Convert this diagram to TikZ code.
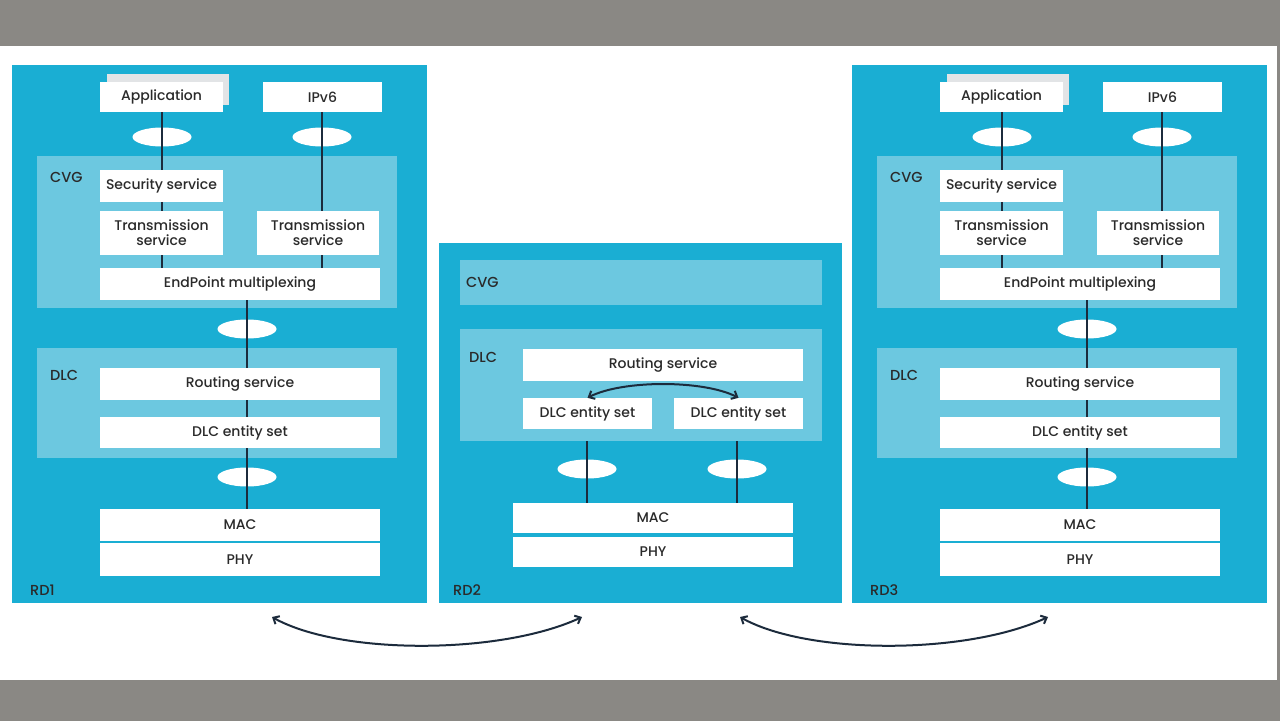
\documentclass[tikz,border=0pt]{standalone}
\usepackage{fontspec}
\setmainfont{Poppins}[UprightFont={* Medium}]
\usetikzlibrary{shapes.geometric,arrows.meta}
\definecolor{outerblue}{HTML}{1AAED3}
\definecolor{innerblue}{HTML}{6CC8E0}
\definecolor{framegray}{HTML}{8A8884}
\definecolor{ink}{HTML}{1C2B3C}
\definecolor{txt}{HTML}{2A2A2A}
\definecolor{shadowgray}{HTML}{E2E4E6}
\newcommand{\bx}[7]{\node[#1, minimum width={(#5-#3)*1pt}, minimum height={(#6-#4)*1pt}] (#2) at ({(#3+#5)/2},{(#4+#6)/2}) {#7};}
\newcommand{\rdpanel}[2]{%
  \bx{outer}{#1-rd}{12}{65}{427}{603}{}
  \bx{inner}{#1-cvg}{37}{156}{397}{308}{}
  \bx{inner}{#1-dlc}{37}{348}{397}{458}{}
  \bx{shadow}{#1-appsh}{107}{74}{229}{105}{}
  \bx{box}{#1-app}{100}{82}{223}{112}{Application}
  \bx{box}{#1-ipv6}{263}{82}{382}{112}{IPv6}
  \bx{box}{#1-sec}{100}{170}{223}{202}{Security service}
  \bx{box}{#1-trl}{100}{211}{223}{255}{Transmission\\service}
  \bx{box}{#1-trr}{257}{211}{379}{255}{Transmission\\service}
  \bx{box}{#1-ep}{100}{268}{380}{300}{EndPoint multiplexing}
  \bx{box}{#1-rt}{100}{368}{380}{400}{Routing service}
  \bx{box}{#1-ent}{100}{417}{380}{448}{DLC entity set}
  \bx{box}{#1-mac}{100}{509}{380}{541}{MAC}
  \bx{box}{#1-phy}{100}{543}{380}{576}{PHY}
  \node[oval] (#1-o1) at (162,137) {};
  \node[oval] (#1-o2) at (322,137) {};
  \node[oval] (#1-o3) at (247,329) {};
  \node[oval] (#1-o4) at (247,477) {};
  \node[lbl] (#1-lcvg) at (50,177) {CVG};
  \node[lbl] (#1-ldlc) at (50,375) {DLC};
  \node[lbl] (#1-lrd) at (30,590) {#2};
  \draw[link] (#1-app.south -| #1-o1) -- (#1-sec.north -| #1-o1);
  \draw[link] (#1-sec.south -| #1-o1) -- (#1-trl.north -| #1-o1);
  \draw[link] (#1-trl.south -| #1-o1) -- (#1-ep.north -| #1-o1);
  \draw[link] (#1-ipv6.south -| #1-o2) -- (#1-trr.north -| #1-o2);
  \draw[link] (#1-trr.south -| #1-o2) -- (#1-ep.north -| #1-o2);
  \draw[link] (#1-ep.south -| #1-o3) -- (#1-rt.north -| #1-o3);
  \draw[link] (#1-rt.south -| #1-o3) -- (#1-ent.north -| #1-o3);
  \draw[link] (#1-ent.south -| #1-o4) -- (#1-mac.north -| #1-o4);
}
\begin{document}
\begin{tikzpicture}[x=1pt,y=-1pt,
  outer/.style={rectangle, fill=outerblue, inner sep=0pt, draw=none},
  inner/.style={rectangle, fill=innerblue, inner sep=0pt, draw=none},
  shadow/.style={rectangle, fill=shadowgray, inner sep=0pt, draw=none},
  box/.style={rectangle, fill=white, inner sep=0pt, draw=none, align=center, text=txt, font=\fontsize{14}{15}\selectfont},
  oval/.style={ellipse, fill=white, draw=none, minimum width=59pt, minimum height=19pt, inner sep=0pt},
  lbl/.style={anchor=west, inner sep=0pt, text=txt, font=\fontsize{14.5}{15}\selectfont},
  link/.style={draw=ink, line width=2.8pt},
  swap/.style={draw=ink, line width=2pt, {Straight Barb[length=5pt,width=9pt]}-{Straight Barb[length=5pt,width=9pt]}}
]
\useasboundingbox (0,0) rectangle (1280,721);
\fill[white] (0,0) rectangle (1280,721);
\fill[framegray] (0,0) rectangle (1280,46);
\fill[framegray] (0,680) rectangle (1280,721);
\fill[framegray] (1277,46) rectangle (1280,680);

\rdpanel{p}{RD1}
\begin{scope}[xshift=840pt]
\rdpanel{q}{RD3}
\end{scope}

% middle panel
\bx{outer}{m-rd}{439}{243}{842}{603}{}
\bx{inner}{m-cvg}{460}{260}{822}{305}{}
\bx{inner}{m-dlc}{460}{329}{822}{441}{}
\bx{box}{m-rt}{523}{349}{803}{381}{Routing service}
\bx{box}{m-entl}{523}{398}{652}{429}{DLC entity set}
\bx{box}{m-entr}{674}{398}{803}{429}{DLC entity set}
\bx{box}{m-mac}{513}{503}{793}{533}{MAC}
\bx{box}{m-phy}{513}{537}{793}{567}{PHY}
\node[oval] (m-o1) at (587,469) {};
\node[oval] (m-o2) at (737,469) {};
\node[lbl] (m-lcvg) at (466,282) {CVG};
\node[lbl] (m-ldlc) at (469,357) {DLC};
\node[lbl] (m-lrd) at (453,590) {RD2};
\draw[link] (m-dlc.south -| m-o1) -- (m-mac.north -| m-o1);
\draw[link] (m-dlc.south -| m-o2) -- (m-mac.north -| m-o2);
\draw[swap] (m-entl.north) .. controls +(35,-18) and +(-35,-18) .. (m-entr.north);

% links between devices
\coordinate (a1s) at (272,617);
\coordinate (a1e) at (582,617);
\coordinate (a2s) at (740,617);
\coordinate (a2e) at (1048,617);
\draw[swap] (a1s) .. controls (340,655) and (500,655) .. (a1e);
\draw[swap] (a2s) .. controls (808,655) and (966,655) .. (a2e);
\end{tikzpicture}
\end{document}
